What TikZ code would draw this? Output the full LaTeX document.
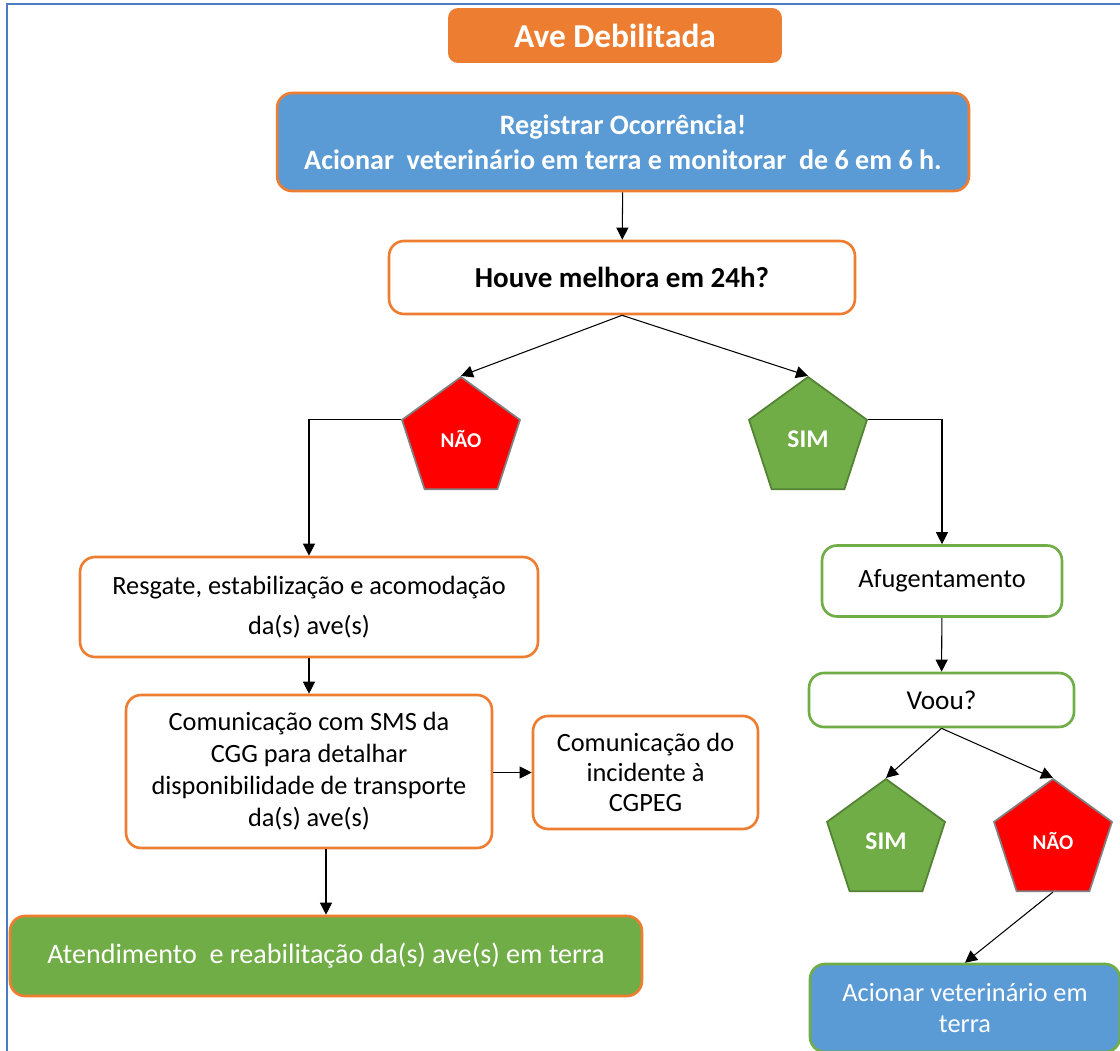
\documentclass[tikz,border=0pt]{standalone}
\usepackage{fontspec}
\setmainfont{Carlito}
\usetikzlibrary{arrows.meta,shapes.geometric}

\definecolor{laranja}{HTML}{ED7D31}
\definecolor{azul}{HTML}{5B9BD5}
\definecolor{verde}{HTML}{70AD47}
\definecolor{verdeesc}{HTML}{548235}
\definecolor{moldura}{HTML}{4A7EC4}

\begin{document}
\begin{tikzpicture}[
  x=0.02cm, y=-0.02cm,
  caixa/.style={draw=laranja, line width=1.5pt, rounded corners=0.3cm, fill=white, align=center, font=\fontsize{15}{18}\selectfont, inner sep=1pt},
  caixav/.style={caixa, draw=verde},
  azulbox/.style={caixa, fill=azul, text=white},
  verdebox/.style={caixa, fill=verde, text=white},
  penta/.style={regular polygon, regular polygon sides=5, minimum size=2.48cm, inner sep=0pt, line width=1pt, text=white},
  nao/.style={penta, fill=red, draw=gray, font=\bfseries\fontsize{12}{14}\selectfont},
  sim/.style={penta, fill=verde, draw=verdeesc, font=\bfseries\fontsize{14.5}{16}\selectfont},
  arr/.style={-{Triangle[length=2.4mm, width=2.4mm]}, line width=0.6pt}
]
  \useasboundingbox (0,0) rectangle (1120,1051);
  % moldura
  \draw[moldura, line width=1.5pt] (7,1051) -- (7,4) -- (1120,4);

  \node[fill=laranja, rounded corners=0.2cm, minimum width=6.68cm, minimum height=1.1cm, text=white, font=\bfseries\fontsize{19}{22}\selectfont] (titulo) at (615,35.5) {Ave Debilitada};
  \node[azulbox, minimum width=13.84cm, minimum height=1.96cm, font=\bfseries\fontsize{16}{20}\selectfont] (reg) at (623,142) {Registrar Ocorrência!\\Acionar\ \ veterinário em terra e monitorar\ \ de 6 em 6 h.};
  \node[caixa, minimum width=9.32cm, minimum height=1.46cm, font=\bfseries\fontsize{16.5}{20}\selectfont] (houve) at (622,277.5) {Houve melhora em 24h?};

  \node[nao] (nao1) at (461,439) {NÃO};
  \node[sim] (sim1) at (808,439) {SIM};

  \node[caixa, minimum width=9.16cm, minimum height=2cm, font=\fontsize{15}{23}\selectfont] (resg) at (309,607) {Resgate, estabilização e acomodação\\da(s) ave(s)};
  \node[caixa, minimum width=7.32cm, minimum height=3.06cm, font=\fontsize{15}{18.2}\selectfont] (comm) at (309,771.5) {Comunicação com SMS da\\CGG para detalhar\\disponibilidade de transporte\\da(s) ave(s)};
  \node[caixa, minimum width=4.5cm, minimum height=2.26cm, font=\fontsize{15}{17}\selectfont] (cgpeg) at (645.5,772.5) {Comunicação do\\incidente à\\CGPEG};
  \node[verdebox, minimum width=12.64cm, minimum height=1.6cm, font=\fontsize{16}{19}\selectfont] (atend) at (326,956) {Atendimento\ \ e reabilitação da(s) ave(s) em terra};

  \node[caixav, minimum width=4.8cm, minimum height=1.42cm] (afug) at (942,581) {Afugentamento};
  \node[caixav, minimum width=5.3cm, minimum height=1.08cm, font=\fontsize{15.5}{19}\selectfont] (voou) at (941.5,700) {Voou?};
  \node[sim] (sim2) at (886,841) {SIM};
  \node[nao] (nao2) at (1053,841) {NÃO};
  \node[azulbox, draw=verde, minimum width=6.2cm, minimum height=1.76cm] (acion) at (965,1008) {Acionar veterinário em\\terra};

  \draw[arr] (reg) -- (houve);
  \draw[arr] (houve.south) -- (nao1.corner 1);
  \draw[arr] (houve.south) -- (sim1.corner 1);
  \draw[arr] (nao1.corner 2) -| (resg.north);
  \draw[arr] (sim1.corner 5) -| (afug.north);
  \draw[arr] (resg) -- (comm);
  \draw[arr] (cgpeg.west -| comm.east) -- (cgpeg.west);
  \draw[arr] (comm.south -| atend.north) -- (atend.north);
  \draw[arr] (afug) -- (voou);
  \draw[arr] (voou.south) -- (sim2.corner 1);
  \draw[arr] (voou.south) -- (nao2.corner 1);
  \draw[arr] (nao2.south) -- (acion.north);
\end{tikzpicture}
\end{document}
